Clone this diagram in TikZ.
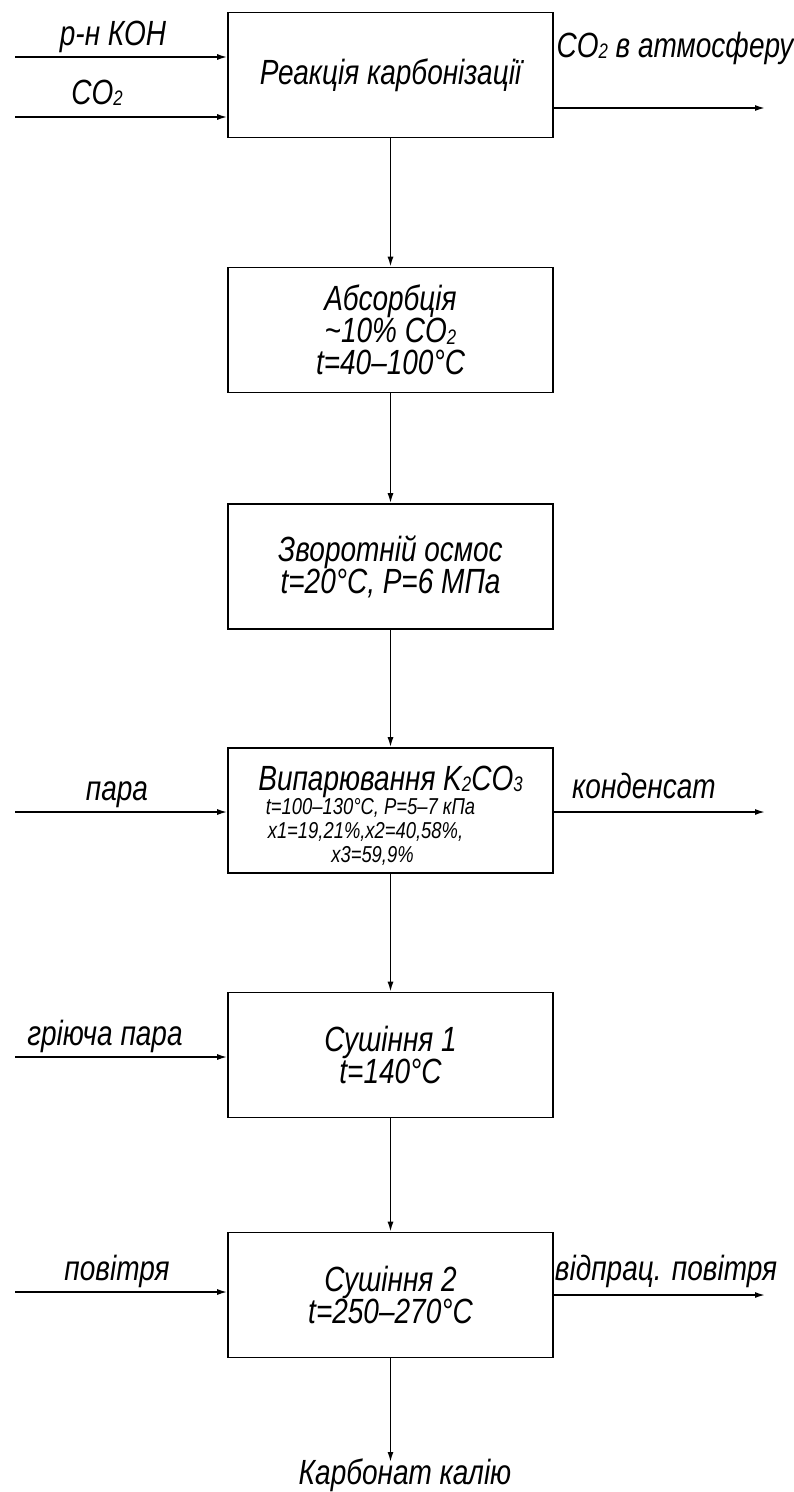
\documentclass[tikz,border=0pt]{standalone}
\usepackage{fontspec}
\usepackage{graphicx}
\setmainfont{Liberation Sans}[FakeStretch=0.8]
\usetikzlibrary{arrows.meta}
\newcommand{\lo}[1]{\raisebox{-0.1ex}{\scalebox{0.6}{#1}}}
\newcommand{\sm}[1]{{\fontsize{23}{22}\selectfont #1}}
\begin{document}
\begin{tikzpicture}[x=1pt,y=-1pt,
  box/.style={draw, line width=1.6pt, minimum width=325pt, minimum height=125pt,
    align=center, inner sep=0pt, font=\fontsize{35}{32}\selectfont\itshape},
  flow/.style={line width=1.6pt, -{Latex[length=10pt,width=6pt]}},
  lbl/.style={font=\fontsize{35}{32}\selectfont\itshape, inner sep=0pt, anchor=base}]
\useasboundingbox (0,0) rectangle (793,1492);
\node[box] (b1) at (390.5,75) {Реакція карбонізації};
\node[box] (b2) at (390.5,330) {Абсорбція\\ \textasciitilde10\% CO\lo{2}\\ t=40–100°C};
\node[box] (b3) at (390.5,566.5) {Зворотній осмос\\ t=20°C, P=6 МПа};
\node[box] (b4) at (390.5,810.5) {\rule{0pt}{34pt}Випарювання K\lo{2}CO\lo{3}\\[-8pt]
  \sm{t=100–130°C, P=5–7 кПа}\rule{40pt}{0pt}\\[-8pt]
  \sm{x1=19,21\%,x2=40,58\%,}\rule{50pt}{0pt}\\[-8pt]
  \sm{x3=59,9\%}\rule{36pt}{0pt}};
\node[box] (b5) at (390.5,1055) {Сушіння 1\\ t=140°C};
\node[box] (b6) at (390.5,1295) {Сушіння 2\\ t=250–270°C};
% inputs / outputs
\coordinate (i1) at (15,57);
\coordinate (i2) at (15,117);
\coordinate (o1) at (765,108);
\coordinate (i4) at (15,812);
\coordinate (o4) at (765,812);
\coordinate (i5) at (15,1057);
\coordinate (i6) at (15,1292);
\coordinate (o6) at (765,1295);
\coordinate (prod) at (390.5,1462);
\draw[flow] (i1) -- (i1 -| b1.west);
\draw[flow] (i2) -- (i2 -| b1.west);
\draw[flow] (o1 -| b1.east) -- (o1);
\draw[flow] (b1) -- (b2);
\draw[flow] (b2) -- (b3);
\draw[flow] (b3) -- (b4);
\draw[flow] (i4) -- (i4 -| b4.west);
\draw[flow] (o4 -| b4.east) -- (o4);
\draw[flow] (b4) -- (b5);
\draw[flow] (i5) -- (i5 -| b5.west);
\draw[flow] (b5) -- (b6);
\draw[flow] (i6) -- (i6 -| b6.west);
\draw[flow] (o6 -| b6.east) -- (o6);
\draw[flow] (b6) -- (prod);
% labels
\node[lbl] (l1) at (113,45) {р-н КОН};
\node[lbl] (l2) at (97,104) {CO\lo{2}};
\node[lbl] (l3) at (675,57) {CO\lo{2} в атмосферу};
\node[lbl] (l4) at (117,800) {пара};
\node[lbl] (l5) at (644,798) {конденсат};
\node[lbl] (l6) at (105,1045) {гріюча пара};
\node[lbl] (l7) at (117,1280) {повітря};
\node[lbl] (l8) at (666,1280) {відпрац. повітря};
\node[lbl] (l9) at (405,1484) {Карбонат калію};
\end{tikzpicture}
\end{document}
